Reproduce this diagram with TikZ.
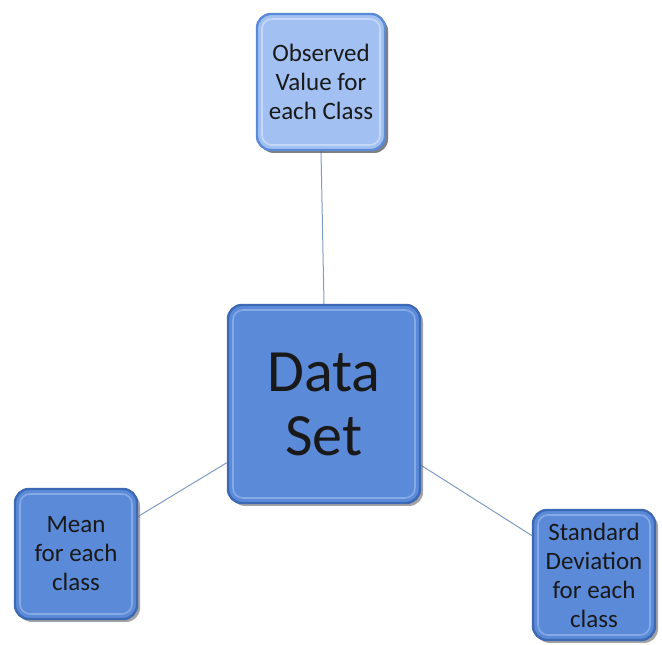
\documentclass[tikz,border=0pt]{standalone}
\usepackage{fontspec}
\setmainfont{Carlito}
\usetikzlibrary{shadows}
\pgfdeclarelayer{background}
\pgfsetlayers{background,main}
\definecolor{boxfill}{HTML}{5B8AD8}
\definecolor{boxedge}{HTML}{3C68B4}
\definecolor{bevel}{HTML}{86AAE6}
\definecolor{lightfill}{HTML}{A2C1F2}
\definecolor{lightbevel}{HTML}{C4D8F8}
\definecolor{linecol}{HTML}{7F9CC4}
\tikzset{
  cube/.style={rounded corners=14pt, draw=boxedge, line width=2.4pt, fill=boxfill,
    align=center, inner sep=0pt, text=black!90,
    drop shadow={shadow xshift=3pt, shadow yshift=-3pt, fill=black!60, opacity=0.6},
    path picture={\draw[#1, line width=1.6pt, rounded corners=10pt]
      ([shift={(5pt,5pt)}]path picture bounding box.south west) rectangle
      ([shift={(-5pt,-5pt)}]path picture bounding box.north east);}},
  cube/.default=bevel,
  smallcube/.style={cube, minimum width=122pt, minimum height=130pt,
    font=\fontsize{25}{29}\selectfont},
  conn/.style={draw=linecol, line width=1pt}
}
\begin{document}
\begin{tikzpicture}[x=1pt,y=1pt]
\useasboundingbox (0,0) rectangle (662,645);
\node[cube, minimum width=192pt, minimum height=198pt, font=\fontsize{60}{64}\selectfont] (data) at (324,241) {Data\\Set};
\node[smallcube, cube=lightbevel, fill=lightfill, draw=boxfill, minimum width=128pt, minimum height=136pt] (obs) at (321,563) {Observed\\Value for\\each Class};
\node[smallcube] (mean) at (76,91) {Mean\\for each\\class};
\node[smallcube] (sd) at (594,70) {Standard\\Deviation\\for each\\class};
\begin{pgfonlayer}{background}
\draw[conn] (obs.south) -- (data.north);
\draw[conn] (mean) -- (data);
\draw[conn] (sd) -- (data);
\end{pgfonlayer}
\end{tikzpicture}
\end{document}
